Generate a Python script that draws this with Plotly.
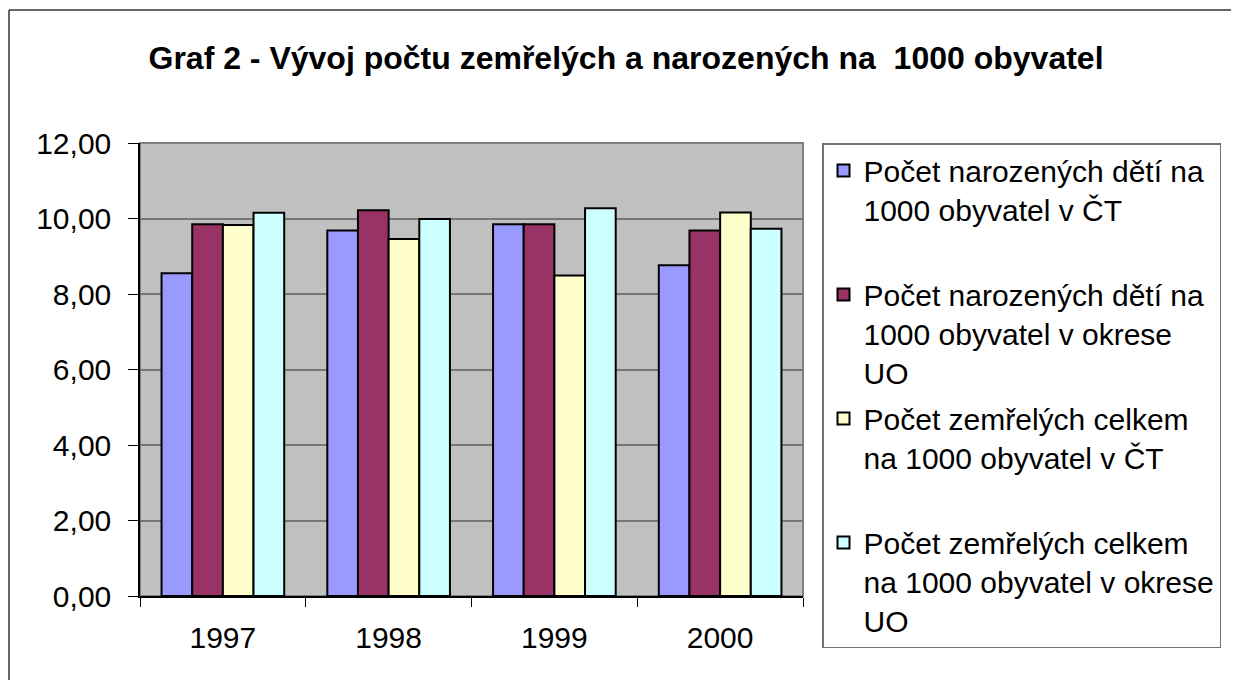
import plotly.graph_objects as go

years = ["1997", "1998", "1999", "2000"]
series_names = [
    "Počet narozených dětí na<br>1000 obyvatel v ČT<br>\u00a0",
    "Počet narozených dětí na<br>1000 obyvatel v okrese<br>UO",
    "Počet zemřelých celkem<br>na 1000 obyvatel v ČT<br>\u00a0",
    "Počet zemřelých celkem<br>na 1000 obyvatel v okrese<br>UO",
]
born_ct = [8.55, 9.68, 9.85, 8.76]
born_uo = [9.85, 10.22, 9.85, 9.68]
died_ct = [9.83, 9.46, 8.49, 10.16]
died_uo = [10.15, 9.99, 10.27, 9.73]
series_values = [born_ct, born_uo, died_ct, died_uo]
colors = ["#9999FF", "#993366", "#FFFFCC", "#CCFFFF"]

OFF = 8  # page body margin
W, H = 1239 - OFF, 680 - OFF
# plot area in absolute page pixels: x 140..803, y 143..596
L = 140 - OFF
T = 143 - OFF
R = W - (803 - OFF)
B = H - (596 - OFF)
pw = W - L - R
ph = H - T - B

fig = go.Figure()
for i, (name, vals) in enumerate(zip(series_names, series_values)):
    fig.add_trace(go.Bar(
        x=years, y=vals, name=name,
        marker=dict(color=colors[i], line=dict(color="black", width=2)),
        legendgroup=str(i),
    ))

fig.update_layout(
    width=W, height=H,
    margin=dict(l=L, r=R, t=T, b=B, autoexpand=False),
    paper_bgcolor="white",
    plot_bgcolor="#C0C0C0",
    separators=", ",
    font=dict(family="Liberation Sans, Arial, sans-serif", color="black"),
    title=dict(
        text="<b>Graf 2 - Vývoj počtu zemřelých a narozených na  1000 obyvatel</b>",
        x=(626 - OFF) / W, xanchor="center", y=1 - (58 - OFF) / H, yanchor="middle",
        font=dict(size=32, color="black"),
    ),
    barmode="group",
    bargap=0.26,
    bargroupgap=0,
    xaxis=dict(
        showgrid=False, showline=True, linecolor="black", linewidth=1.5,
        ticks="outside", tickson="boundaries", ticklen=9, tickcolor="black",
        tickfont=dict(size=30), ticklabelstandoff=14, fixedrange=True,
    ),
    yaxis=dict(
        range=[0, 12], dtick=2, tickformat=".2f",
        showgrid=True, gridcolor="#777777", gridwidth=1.5,
        showline=True, linecolor="black", linewidth=1.5,
        ticks="outside", ticklen=10, tickcolor="black",
        tickfont=dict(size=30), ticklabelstandoff=11,
        zeroline=False, fixedrange=True,
    ),
    legend=dict(
        x=(822 - 140) / pw, xanchor="left", y=1.0, yanchor="top",
        bgcolor="white", bordercolor="#707070", borderwidth=1.5,
        font=dict(size=30), valign="top", tracegroupgap=4,
        traceorder="grouped", maxheight=640,
    ),
    showlegend=True,
    shapes=[
        dict(type="rect", xref="paper", yref="paper", x0=0, x1=1, y0=0, y1=1,
             line=dict(color="#808080", width=2), layer="below"),
        dict(type="line", xref="paper", yref="paper",
             x0=(1 - L) / pw, x1=(1 - L) / pw,
             y0=-(B + 10) / ph, y1=1 + (T - 2) / ph,
             line=dict(color="#333333", width=1.5)),
        dict(type="line", xref="paper", yref="paper",
             x0=(1 - L) / pw, x1=(W + 10 - L) / pw,
             y0=1 + (T - 2) / ph, y1=1 + (T - 2) / ph,
             line=dict(color="#333333", width=1.5)),
    ],
)

fig.write_html("out.html")
